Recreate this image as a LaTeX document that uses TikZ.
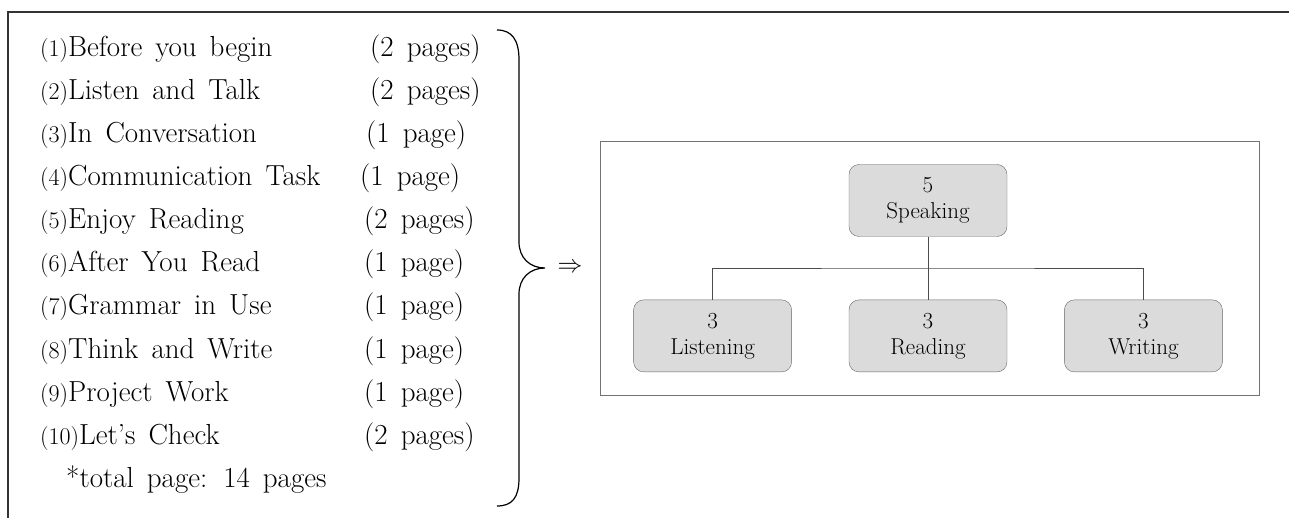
\documentclass[tikz,border=0pt]{standalone}
\usepackage{tikz}
\usetikzlibrary{positioning}

\newcommand{\secno}[1]{{\fontsize{24}{24}\selectfont(#1)}}
\newcommand{\itemfont}{\fontsize{29}{32}\selectfont\spaceskip 13pt plus 2pt\relax}

\begin{document}
\begin{tikzpicture}[x=1pt,y=-1pt,
    item/.style={anchor=base west, inner sep=0pt, font=\itemfont},
    skill/.style={draw=black!60, fill=black!14, rounded corners=10pt,
                  minimum width=158pt, minimum height=72pt, align=center,
                  font=\fontsize{23}{26}\selectfont},
    conn/.style={draw=black!70, line width=0.8pt}]
\useasboundingbox (0,0) rectangle (1289,518);

% outer frame
\draw[line width=1.4pt, black!80] (1289,12) -- (8,12) -- (8,518);

% list of sections
\node[item] (t1) at (40,57) {\secno{1}Before you begin};
\node[item] (t2) at (40,100) {\secno{2}Listen and Talk};
\node[item] (t3) at (40,143) {\secno{3}In Conversation};
\node[item] (t4) at (40,186) {\secno{4}Communication Task};
\node[item] (t5) at (40,229) {\secno{5}Enjoy Reading};
\node[item] (t6) at (40,272) {\secno{6}After You Read};
\node[item] (t7) at (40,315) {\secno{7}Grammar in Use};
\node[item] (t8) at (40,358) {\secno{8}Think and Write};
\node[item] (t9) at (40,401) {\secno{9}Project Work};
\node[item] (t10) at (40,444) {\secno{10}Let's Check};
\node[item] (total) at (66,487) {*total page: 14 pages};

% pages
\node[item] (p1) at (370,57) {(2 pages)};
\node[item] (p2) at (370,100) {(2 pages)};
\node[item] (p3) at (366,143) {(1 page)};
\node[item] (p4) at (360,186) {(1 page)};
\node[item] (p5) at (364,229) {(2 pages)};
\node[item] (p6) at (364,272) {(1 page)};
\node[item] (p7) at (364,315) {(1 page)};
\node[item] (p8) at (364,358) {(1 page)};
\node[item] (p9) at (364,401) {(1 page)};
\node[item] (p10) at (364,444) {(2 pages)};

% brace
\draw[line width=1.2pt] (497,30) .. controls (512,30) and (519,40) .. (519,60)
    -- (519,242) .. controls (519,258) and (530,268) .. (545,268)
    .. controls (530,268) and (519,278) .. (519,294)
    -- (519,478) .. controls (519,498) and (512,506) .. (497,506);
\node[font=\fontsize{26}{30}\selectfont] (arrow) at (570,268) {$\Rightarrow$};

% skills
\draw[black!55, line width=1pt] (600,142) rectangle (1259,395);
\node[skill] (speak) at (928,200.5) {5\\Speaking};
\node[skill, below=63pt of speak] (read) {3\\Reading};
\node[skill, left=57pt of read] (listen) {3\\Listening};
\node[skill, right=57pt of read] (write) {3\\Writing};
\coordinate (bar) at (928,268);

\draw[conn] (speak) -- (read);
\draw[conn] (listen) |- (bar) -| (write);
\end{tikzpicture}
\end{document}
